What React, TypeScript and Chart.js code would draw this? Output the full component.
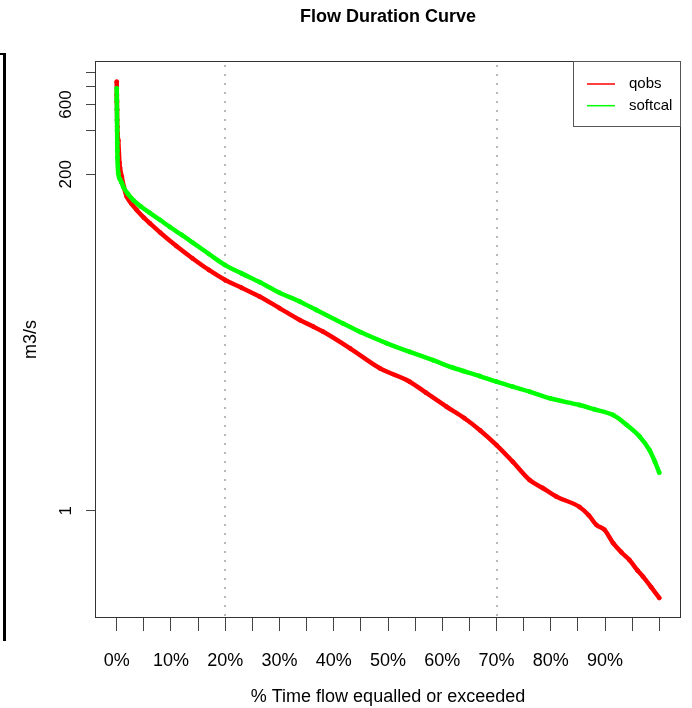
import { useEffect, useRef } from 'react';
import { Chart, registerables } from 'chart.js';

Chart.register(...registerables);

const FONT = '"Liberation Sans", Arial, Helvetica, sans-serif';

// % of time flow equalled or exceeded, and flow (m3/s)
const qobsPct = [0, 0.02, 0.04, 0.06, 0.08, 0.1, 0.14, 0.29, 0.5, 0.6, 0.92, 1.3, 1.84, 2.7, 3.68, 5, 6.13, 8, 11, 14, 17, 20, 23, 26.4, 30, 33.8, 36.2, 38, 43, 48.5, 54, 57, 60.8, 64.1, 67, 70, 73, 76.1, 78.5, 81, 85.3, 87, 88.4, 89.9, 91.5, 93, 94.5, 96, 97, 98.5, 100];
const qobsVal = [860, 697, 628, 550, 470, 423, 380, 340, 240, 222, 193, 165, 141, 126, 114, 101, 92.4, 80, 64.6, 53.1, 44.3, 37.8, 33.5, 29.1, 24.3, 20.1, 18.2, 16.8, 12.9, 9.42, 7.63, 6.41, 5.14, 4.29, 3.54, 2.81, 2.16, 1.62, 1.43, 1.25, 1.06, 0.93, 0.8, 0.74, 0.6, 0.52, 0.46, 0.39, 0.354, 0.3, 0.253];

const softPct = [0, 0.02, 0.04, 0.06, 0.08, 0.1, 0.12, 0.14, 0.29, 0.6, 0.92, 1.22, 2, 3.06, 4.5, 6.13, 8, 9.8, 12, 14.1, 17, 19.9, 23, 26.4, 30, 33.8, 36.8, 41.7, 45, 49.7, 54, 58.3, 62, 66.9, 70, 73, 76.1, 80, 85.3, 88, 91.5, 94, 96.4, 98.2, 99.2, 100];
const softVal = [775, 650, 560, 470, 400, 330, 290, 260, 203, 185, 175, 164, 148, 133, 120, 108.7, 97.4, 87.2, 76.9, 67.8, 57, 48, 42, 36.5, 31, 26.9, 23.6, 19.1, 16.6, 14.0, 12.2, 10.7, 9.5, 8.34, 7.63, 7.05, 6.52, 5.85, 5.28, 4.94, 4.51, 3.86, 3.21, 2.6, 2.16, 1.82];

const seriesNames = ['qobs', 'softcal'];
const seriesColors = ['#FF0000', '#00FF00'];

const xTickVals = [0, 5, 10, 15, 20, 25, 30, 35, 40, 45, 50, 55, 60, 65, 70, 75, 80, 85, 90, 95, 100];
const xLabelVals = [0, 10, 20, 30, 40, 50, 60, 70, 80, 90];
const xTickLabels = ['0%', '10%', '20%', '30%', '40%', '50%', '60%', '70%', '80%', '90%'];
const yTickVals = [1, 200, 400, 600, 800, 1000];
const yLabelVals = [1, 200, 600];
const yTickLabels = ['1', '200', '600'];
const refLines = [20, 70];

const titleText = 'Flow Duration Curve';
const xTitle = '% Time flow equalled or exceeded';
const yTitle = 'm3/s';

const decor = {
  id: 'fdcDecor',
  beforeDatasetsDraw(chart: any) {
    const { ctx, chartArea } = chart;
    const xs = chart.scales.x;
    ctx.save();
    ctx.strokeStyle = '#b8b8b8';
    ctx.lineWidth = 2;
    ctx.setLineDash([2, 7]);
    refLines.forEach((v) => {
      const px = Math.round(xs.getPixelForValue(v));
      ctx.beginPath();
      ctx.moveTo(px, chartArea.top + 4);
      ctx.lineTo(px, chartArea.bottom);
      ctx.stroke();
    });
    ctx.restore();
  },
  afterDraw(chart: any) {
    const { ctx, chartArea } = chart;
    const ys = chart.scales.y;
    ctx.save();
    // plot box
    ctx.strokeStyle = '#333';
    ctx.lineWidth = 1;
    ctx.strokeRect(chartArea.left + 0.5, chartArea.top + 0.5, chartArea.right - chartArea.left - 1, chartArea.bottom - chartArea.top - 1);
    // rotated y tick labels
    ctx.fillStyle = '#000';
    ctx.font = `17px ${FONT}`;
    ctx.textAlign = 'center';
    ctx.textBaseline = 'middle';
    yLabelVals.forEach((v, i) => {
      const py = ys.getPixelForValue(v);
      ctx.save();
      ctx.translate(66, py);
      ctx.rotate(-Math.PI / 2);
      ctx.fillText(yTickLabels[i], 0, 0);
      ctx.restore();
    });
    // legend
    const bw = 108;
    const bh = 66;
    const bx = chartArea.right - bw;
    const by = chartArea.top;
    ctx.fillStyle = '#fff';
    ctx.fillRect(bx, by, bw, bh);
    ctx.strokeStyle = '#555';
    ctx.strokeRect(bx + 0.5, by + 0.5, bw - 1, bh - 1);
    ctx.font = `15px ${FONT}`;
    ctx.textAlign = 'left';
    ctx.textBaseline = 'middle';
    seriesNames.forEach((name, i) => {
      const ly = by + 23 + i * 21.7;
      ctx.strokeStyle = seriesColors[i];
      ctx.lineWidth = 1.5;
      ctx.beginPath();
      ctx.moveTo(bx + 14, ly);
      ctx.lineTo(bx + 42, ly);
      ctx.stroke();
      ctx.fillStyle = '#000';
      ctx.fillText(name, bx + 56, ly);
    });
    ctx.restore();
  },
};

export default function App() {
  const canvasRef = useRef<HTMLCanvasElement | null>(null);

  useEffect(() => {
    document.body.style.margin = '0';
    const canvas = canvasRef.current;
    if (!canvas) return;
    const qobsData = qobsPct.map((x, i) => ({ x, y: qobsVal[i] }));
    const softData = softPct.map((x, i) => ({ x, y: softVal[i] }));
    const chart = new Chart(canvas, {
      type: 'line',
      data: {
        datasets: [
          {
            label: seriesNames[0],
            data: qobsData,
            borderColor: seriesColors[0],
            backgroundColor: seriesColors[0],
            pointBorderColor: seriesColors[0],
            pointBackgroundColor: seriesColors[0],
            borderWidth: 4.5,
            pointRadius: 2,
            pointBorderWidth: 1,
            cubicInterpolationMode: 'monotone',
            order: 1,
          },
          {
            label: seriesNames[1],
            data: softData,
            borderColor: seriesColors[1],
            backgroundColor: seriesColors[1],
            pointBorderColor: seriesColors[1],
            pointBackgroundColor: seriesColors[1],
            borderWidth: 4.5,
            pointRadius: 2,
            pointBorderWidth: 1,
            cubicInterpolationMode: 'monotone',
            order: 0,
          },
        ],
      },
      options: {
        animation: false,
        responsive: false,
        events: [],
        layout: { padding: { left: 0, right: 11, top: 0, bottom: 0 } },
        plugins: {
          legend: { display: false },
          tooltip: { enabled: false },
          title: {
            display: true,
            text: titleText,
            fullSize: false,
            color: '#000',
            font: { family: FONT, size: 18, weight: 'bold' },
            padding: { top: 6, bottom: 33.4 },
          },
        },
        scales: {
          x: {
            type: 'linear',
            min: -4,
            max: 104,
            afterBuildTicks: (s: any) => {
              s.ticks = xTickVals.map((v) => ({ value: v }));
            },
            afterFit: (s: any) => {
              s.height = 90;
            },
            border: { display: false },
            grid: { drawOnChartArea: false, drawTicks: true, tickLength: 13, color: '#444', lineWidth: 1 },
            ticks: {
              autoSkip: false,
              maxRotation: 0,
              minRotation: 0,
              padding: 19,
              color: '#000',
              font: { family: FONT, size: 18 },
              callback: (v: any) => {
                const idx = xLabelVals.indexOf(Number(v));
                return idx >= 0 ? xTickLabels[idx] : '';
              },
            },
            title: {
              display: true,
              text: xTitle,
              color: '#000',
              font: { family: FONT, size: 18 },
              padding: { top: 0, bottom: 0 },
            },
          },
          y: {
            type: 'logarithmic',
            min: 0.1845,
            max: 1191,
            afterBuildTicks: (s: any) => {
              s.ticks = yTickVals.map((v) => ({ value: v }));
            },
            afterFit: (s: any) => {
              s.width = 95;
            },
            border: { display: false },
            grid: { drawOnChartArea: false, drawTicks: true, tickLength: 9, color: '#444', lineWidth: 1 },
            ticks: { display: false },
            title: {
              display: true,
              text: yTitle,
              color: '#000',
              font: { family: FONT, size: 18 },
              padding: { top: 20, bottom: 0 },
            },
          },
        },
      },
      plugins: [decor],
    });
    return () => chart.destroy();
  }, []);

  return (
    <div style={{ position: 'relative', width: 692, height: 708, background: '#fff', overflow: 'hidden' }}>
      <div
        style={{
          position: 'absolute',
          left: 0,
          top: 53,
          width: 3,
          height: 586,
          borderTop: '2px solid #000',
          borderRight: '3px solid #000',
        }}
      />
      <canvas ref={canvasRef} width={692} height={708} style={{ position: 'absolute', left: 0, top: 0 }} />
    </div>
  );
}
